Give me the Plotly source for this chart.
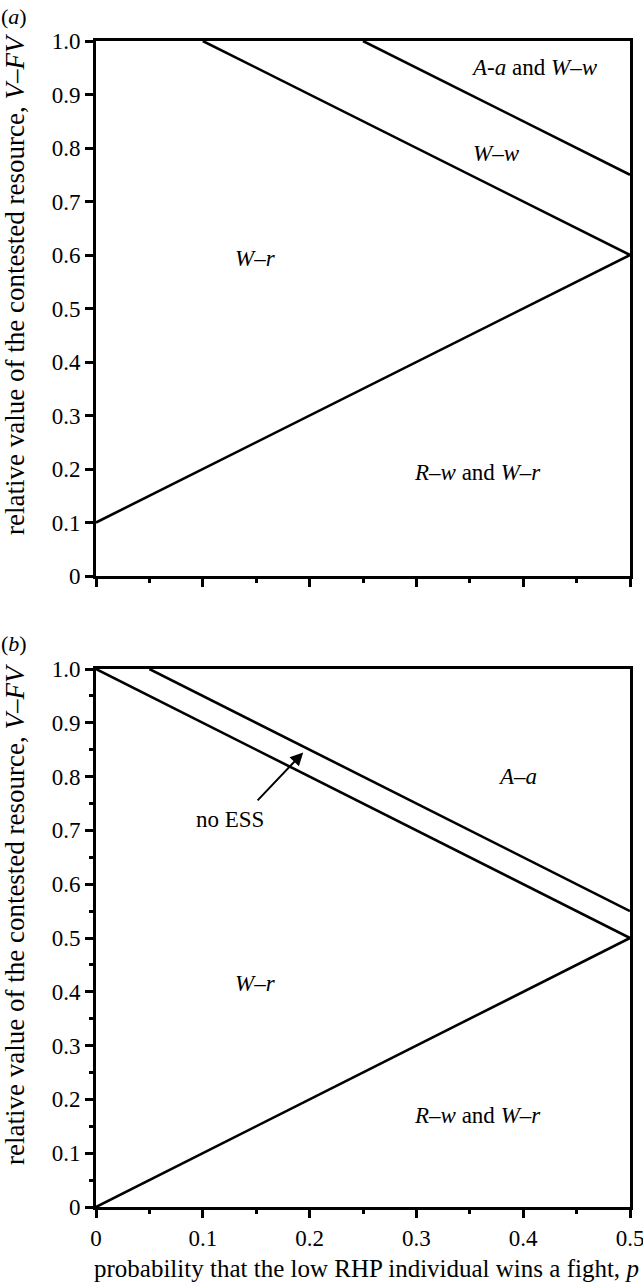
import plotly.graph_objects as go

# ---- data (boundary lines between ESS regions) ----
# panel (a)
a_lower_x = [0.0, 0.5]
a_lower_y = [0.1, 0.6]
a_mid_x = [0.1, 0.5]
a_mid_y = [1.0, 0.6]
a_upper_x = [0.25, 0.5]
a_upper_y = [1.0, 0.75]
# panel (b)
b_lower_x = [0.0, 0.5]
b_lower_y = [0.0, 0.5]
b_mid_x = [0.0, 0.5]
b_mid_y = [1.0, 0.5]
b_upper_x = [0.05, 0.5]
b_upper_y = [1.0, 0.55]

x_tickvals = [0, 0.1, 0.2, 0.3, 0.4, 0.5]
x_ticktext = ["0", "0.1", "0.2", "0.3", "0.4", "0.5"]
y_tickvals = [0, 0.1, 0.2, 0.3, 0.4, 0.5, 0.6, 0.7, 0.8, 0.9, 1.0]
y_ticktext = ["0", "0.1", "0.2", "0.3", "0.4", "0.5", "0.6", "0.7", "0.8", "0.9", "1.0"]

# region labels: (text, x, y)
a_labels = [
    ("<i>A</i>-<i>a</i> and <i>W</i>–<i>w</i>", 0.411, 0.95),
    ("<i>W</i>–<i>w</i>", 0.375, 0.79),
    ("<i>W</i>–<i>r</i>", 0.149, 0.594),
    ("<i>R</i>–<i>w</i> and <i>W</i>–<i>r</i>", 0.357, 0.194),
]
b_labels = [
    ("<i>A</i>–<i>a</i>", 0.395, 0.80),
    ("no ESS", 0.125, 0.72),
    ("<i>W</i>–<i>r</i>", 0.149, 0.415),
    ("<i>R</i>–<i>w</i> and <i>W</i>–<i>r</i>", 0.357, 0.17),
]
arrow_tail = (0.150, 0.753)
arrow_head = (0.194, 0.845)

FONT = "Liberation Serif"
LW = 2.6

W, H = 643, 1285
ML = 96
MR = W - 630
MT = 41
MB = H - 1207
plot_w = W - ML - MR
plot_h = H - MT - MB


def px_x(p):  # reference pixel -> paper
    return (p - ML) / plot_w


def px_y(p):
    return (H - MB - p) / plot_h


fig = go.Figure()
for xs, ys in [(a_lower_x, a_lower_y), (a_mid_x, a_mid_y), (a_upper_x, a_upper_y)]:
    fig.add_trace(go.Scatter(x=xs, y=ys, mode="lines", line=dict(color="black", width=LW),
                             xaxis="x", yaxis="y", showlegend=False, hoverinfo="skip"))
for xs, ys in [(b_lower_x, b_lower_y), (b_mid_x, b_mid_y), (b_upper_x, b_upper_y)]:
    fig.add_trace(go.Scatter(x=xs, y=ys, mode="lines", line=dict(color="black", width=LW),
                             xaxis="x2", yaxis="y2", showlegend=False, hoverinfo="skip"))

ytitle = "relative value of the contested resource, <i>V</i>–<i>FV</i>"
xtitle = "probability that the low RHP individual wins a fight, <i>p</i>"

tickfont = dict(family=FONT, size=23, color="black")
common_x = dict(range=[0, 0.5], showline=True, linecolor="black", linewidth=3, mirror=True,
                ticks="outside", ticklen=8, tickwidth=3, tickcolor="black", automargin=False,
                tickvals=x_tickvals, ticktext=x_ticktext, showgrid=False, zeroline=False,
                ticklabeloverflow="allow",
                minor=dict(ticks="outside", ticklen=4, tickwidth=3, tickcolor="black",
                           dtick=0.05, tick0=0, showgrid=False),
                tickfont=tickfont)
common_y = dict(range=[0, 1.0], showline=True, linecolor="black", linewidth=3, mirror=True,
                ticks="outside", ticklen=8, tickwidth=3, tickcolor="black", automargin=False,
                tickvals=y_tickvals, ticktext=y_ticktext, showgrid=False, zeroline=False,
                ticklabeloverflow="allow",
                tickfont=tickfont)

dom_a = [px_y(576), 1.0]
dom_b = [0.0, px_y(669)]

xa = dict(common_x); xa.update(domain=[0, 1], anchor="y", showticklabels=False)
xb = dict(common_x); xb.update(domain=[0, 1], anchor="y2")
ya = dict(common_y); ya.update(domain=dom_a, anchor="x")
yb = dict(common_y); yb.update(domain=dom_b, anchor="x2",
                               minor=dict(ticks="outside", ticklen=4, tickwidth=3, tickcolor="black",
                                          dtick=0.05, tick0=0, showgrid=False))

lab_font = dict(family=FONT, size=23, color="black")
annotations = []
for t, x, y in a_labels:
    annotations.append(dict(text=t, x=x, y=y, xref="x", yref="y", showarrow=False, font=lab_font))
for t, x, y in b_labels:
    annotations.append(dict(text=t, x=x, y=y, xref="x2", yref="y2", showarrow=False, font=lab_font))
annotations.append(dict(text="", x=arrow_head[0], y=arrow_head[1], xref="x2", yref="y2",
                        ax=arrow_tail[0], ay=arrow_tail[1], axref="x2", ayref="y2",
                        showarrow=True, arrowhead=2, arrowsize=1.3, arrowwidth=2, arrowcolor="black"))
# panel labels
pl_font = dict(family=FONT, size=22, color="black")
annotations.append(dict(text="(<i>a</i>)", x=px_x(14), y=px_y(16), xref="paper", yref="paper",
                        xanchor="center", yanchor="middle", showarrow=False, font=pl_font))
annotations.append(dict(text="(<i>b</i>)", x=px_x(14), y=px_y(643), xref="paper", yref="paper",
                        xanchor="center", yanchor="middle", showarrow=False, font=pl_font))
# axis titles
ytitle_font = dict(family=FONT, size=27, color="black")
xtitle_font = dict(family=FONT, size=25, color="black")
annotations.append(dict(text=ytitle, x=px_x(15), y=px_y(284), xref="paper", yref="paper",
                        xanchor="center", yanchor="middle",
                        textangle=-90, showarrow=False, font=ytitle_font))
annotations.append(dict(text=ytitle, x=px_x(15), y=px_y(914), xref="paper", yref="paper",
                        xanchor="center", yanchor="middle",
                        textangle=-90, showarrow=False, font=ytitle_font))
annotations.append(dict(text=xtitle, x=px_x(366), y=px_y(1268), xref="paper", yref="paper",
                        xanchor="center", yanchor="middle", showarrow=False, font=xtitle_font))

fig.update_layout(
    width=W, height=H,
    margin=dict(l=ML, r=MR, t=MT, b=MB, autoexpand=False),
    paper_bgcolor="white", plot_bgcolor="white",
    xaxis=xa, yaxis=ya, xaxis2=xb, yaxis2=yb,
    annotations=annotations,
    font=dict(family=FONT, color="black"),
)

# remove the default page margin so the figure fills the window exactly
fig.write_html("out.html", config={"displayModeBar": False},
               post_script="document.body.style.margin='0px';document.body.style.overflow='hidden';")
